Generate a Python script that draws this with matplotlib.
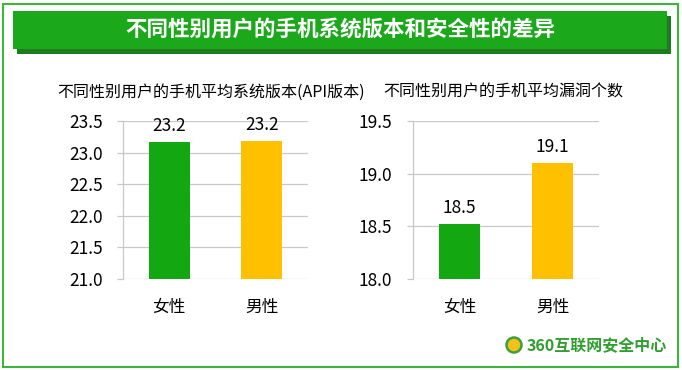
import matplotlib
matplotlib.use("Agg")
import matplotlib.pyplot as plt
from matplotlib.patches import Rectangle, Ellipse

plt.rcParams['font.family'] = ['Noto Sans CJK SC', 'DejaVu Sans']

categories = ["女性", "男性"]
api_values = [23.17, 23.18]
api_labels = ["23.2", "23.2"]
vuln_values = [18.52, 19.10]
vuln_labels = ["18.5", "19.1"]
api_ticks = [21.0, 21.5, 22.0, 22.5, 23.0, 23.5]
vuln_ticks = [18.0, 18.5, 19.0, 19.5]

main_title = "不同性别用户的手机系统版本和安全性的差异"
left_title = "不同性别用户的手机平均系统版本(API版本)"
right_title = "不同性别用户的手机平均漏洞个数"
logo_text = "360互联网安全中心"

colors = ["#13A812", "#FFC000"]
grid_color = "#C8C8C8"

W, H = 682, 370
fig = plt.figure(figsize=(W / 100, H / 100), dpi=100)
fig.patch.set_facecolor("white")

def px(x0, y0, x1, y1):
    return [x0 / W, 1 - y1 / H, (x1 - x0) / W, (y1 - y0) / H]

# outer border
fig.patches.append(Rectangle((3 / W, 3 / H), (W - 7) / W, (H - 7) / H, transform=fig.transFigure,
                             fill=False, edgecolor="#3DB53D", linewidth=1.5))
# banner shadow + banner
fig.patches.append(Rectangle((17 / W, 1 - 54 / H), (671 - 17) / W, (54 - 16) / H,
                             transform=fig.transFigure, facecolor="#1E7B1E", edgecolor="none"))
fig.patches.append(Rectangle((13 / W, 1 - 49 / H), (667 - 13) / W, (49 - 11) / H,
                             transform=fig.transFigure, facecolor="#1BA81B", edgecolor="none"))
fig.text(340 / W, 1 - 30 / H, main_title, ha="center", va="center", color="white",
         fontsize=15.5, fontweight="bold")


def draw(ax, vals, labels, ticks, title, title_x):
    x = list(range(len(categories)))
    ax.bar(x, vals, width=0.44, color=colors, zorder=3)
    ax.set_xlim(-0.5, 1.5)
    ax.set_ylim(ticks[0], ticks[-1])
    ax.set_yticks(ticks)
    ax.set_yticklabels([f"{t:.1f}" for t in ticks], fontsize=12.5)
    ax.set_xticks(x)
    ax.set_xticklabels(categories, fontsize=12)
    ax.grid(axis="y", color=grid_color, linewidth=0.9, zorder=0)
    for name, s in ax.spines.items():
        if name == "left":
            s.set_color(grid_color)
            s.set_linewidth(0.9)
        else:
            s.set_visible(False)
    ax.tick_params(axis="y", length=4.3, width=0.9, color=grid_color, pad=10.5)
    ax.tick_params(axis="x", length=0, pad=14.5)
    for xi, v, lab in zip(x, vals, labels):
        ax.annotate(lab, (xi, v), xytext=(0, 5), textcoords="offset points",
                    ha="center", va="bottom", fontsize=12.5)
    fig.text(title_x / W, 1 - 92 / H, title, ha="left", va="center", fontsize=11.5)


ax1 = fig.add_axes(px(123, 121, 308, 279))
draw(ax1, api_values, api_labels, api_ticks, left_title, 57)
ax2 = fig.add_axes(px(413, 121, 599, 279))
draw(ax2, vuln_values, vuln_labels, vuln_ticks, right_title, 383)

# logo
fig.patches.append(Ellipse((514 / W, 1 - 345 / H), 15 / W, 15 / H, transform=fig.transFigure,
                           facecolor="#F2C21B", edgecolor="#3DA03D", linewidth=1.8))
fig.text(527 / W, 1 - 345 / H, logo_text, ha="left", va="center", fontsize=11.5,
         color="#2E9E2E", fontweight="bold")

fig.savefig("out.png", dpi=100, facecolor="white")
